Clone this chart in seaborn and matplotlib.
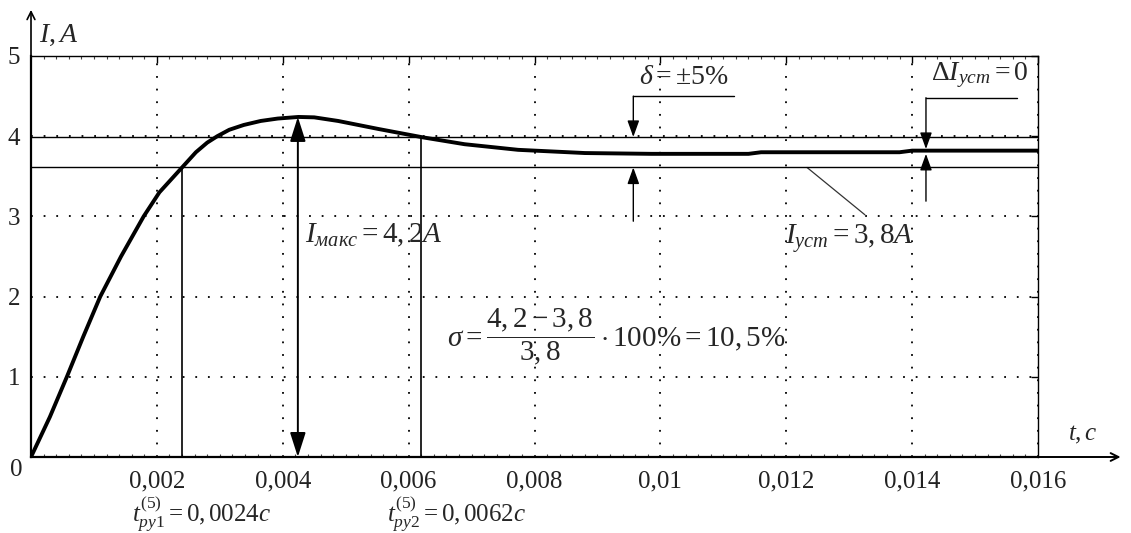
import matplotlib
matplotlib.use("Agg")
import matplotlib.pyplot as plt
from matplotlib.ticker import MultipleLocator, FixedLocator, FuncFormatter
import numpy as np
import pandas as pd
import seaborn as sns

# Transient current response I(t)
t_s = [0.0, 0.0003, 0.00057, 0.00083, 0.0011, 0.00143, 0.00179, 0.00204,
       0.0024, 0.00262, 0.0028, 0.00296, 0.00315, 0.00338, 0.00365, 0.00392,
       0.00425, 0.0045, 0.00488, 0.00552, 0.00623, 0.00689, 0.00774, 0.0088,
       0.00986, 0.0114, 0.0116, 0.0138, 0.0140, 0.016]
i_a = [0.0, 0.5, 1.0, 1.5, 2.0, 2.5, 3.0, 3.3,
       3.61, 3.8, 3.92, 4.0, 4.08, 4.14, 4.19, 4.22,
       4.24, 4.235, 4.19, 4.09, 3.985, 3.90, 3.83, 3.79,
       3.78, 3.78, 3.80, 3.80, 3.82, 3.82]

x_ticks = [0.002, 0.004, 0.006, 0.008, 0.010, 0.012, 0.014, 0.016]
y_ticks = [1, 2, 3, 4, 5]

i_steady = 3.8        # A
i_peak = 4.24         # A, curve maximum
t_peak = 0.00424      # s
delta = 0.05          # tolerance band
t_settle1 = 0.0024    # s
t_settle2 = 0.0062    # s

sns.set_theme(style="white")
plt.rcParams["font.family"] = ["Liberation Serif", "DejaVu Sans"]
plt.rcParams["mathtext.fontset"] = "custom"
plt.rcParams["mathtext.rm"] = "Liberation Serif"
plt.rcParams["mathtext.it"] = "Liberation Serif:italic"
plt.rcParams["mathtext.bf"] = "Liberation Serif:bold"

fig = plt.figure(figsize=(11.31, 5.33), dpi=100)
ax = fig.add_axes([31 / 1131, 76 / 533, 1007 / 1131, 401 / 533])

df = pd.DataFrame({"t": t_s, "I": i_a})
sns.lineplot(data=df, x="t", y="I", ax=ax, color="black", lw=2.8, zorder=5)

ax.set_xlim(0, 0.016)
ax.set_ylim(0, 5)
ax.set_xlabel("")
ax.set_ylabel("")

# ticks and dotted grid
ax.xaxis.set_major_locator(FixedLocator(x_ticks))
ax.yaxis.set_major_locator(FixedLocator(y_ticks))
ax.xaxis.set_minor_locator(MultipleLocator(0.0002))
fmt = FuncFormatter(lambda v, p: ("%g" % v).replace(".", ","))
ax.xaxis.set_major_formatter(fmt)
ax.yaxis.set_major_formatter(FuncFormatter(lambda v, p: "%g" % v))
ax.tick_params(axis="both", which="major", direction="in", length=5,
               width=1.0, color="black", labelsize=18, labelcolor="#222222",
               top=True, right=True)
ax.tick_params(axis="x", which="major", pad=10)
ax.tick_params(axis="y", which="major", pad=8)
ax.tick_params(axis="x", which="minor", direction="in", length=2.5,
               width=0.8, color="#444444", top=True, bottom=True)
ax.grid(True, which="major", color="black", lw=1.3, linestyle=(0, (1, 6)))

for side in ["top", "right"]:
    ax.spines[side].set_color("black")
    ax.spines[side].set_linewidth(1.0)
for side in ["left", "bottom"]:
    ax.spines[side].set_color("black")
    ax.spines[side].set_linewidth(1.6)

# axis arrows
ax.annotate("", xy=(0, 1.115), xytext=(0, 1.0), xycoords="axes fraction",
            arrowprops=dict(arrowstyle="->", lw=1.2, color="black",
                            shrinkA=0, shrinkB=0, mutation_scale=14))
ax.annotate("", xy=(1.082, 0), xytext=(1.0, 0), xycoords="axes fraction",
            arrowprops=dict(arrowstyle="->", lw=1.4, color="black",
                            shrinkA=0, shrinkB=0, mutation_scale=14))
ax.text(0.00044, 5.26, r"$I, A$", fontsize=20, ha="center", va="center",
        clip_on=False)
ax.text(0.01671, 0.27, r"$t, c$", fontsize=18, ha="center", va="center",
        clip_on=False)
ax.text(-0.00024, -0.16, "0", fontsize=18, ha="center", va="center",
        color="#222222", clip_on=False)

# tolerance band lines
band_hi = i_steady * (1 + delta)
band_lo = i_steady * (1 - delta)
ax.axhline(band_hi, color="black", lw=1.0, zorder=3)
ax.axhline(band_lo, color="black", lw=1.0, zorder=3)

# settling time verticals
ax.plot([t_settle1, t_settle1], [0, band_lo], color="black", lw=1.2)
ax.plot([t_settle2, t_settle2], [0, band_hi], color="black", lw=1.2)

head = dict(color="black", lw=1.4, shrinkA=0, shrinkB=0, mutation_scale=20)

# peak current arrow
ax.annotate("", xy=(t_peak, i_peak), xytext=(t_peak, 0),
            arrowprops=dict(arrowstyle="<|-|>,head_length=0.75,head_width=0.24",
                            **head), zorder=6)
ax.text(0.00544, 2.76, r"$I_{макс} = 4,2A$", fontsize=21,
        ha="center", va="center")

# delta band arrows
t_d = 0.00957
ax.plot([t_d, 0.01117], [4.5, 4.5], color="black", lw=1.0)
ax.annotate("", xy=(t_d, band_hi), xytext=(t_d, 4.5),
            arrowprops=dict(arrowstyle="-|>,head_length=0.5,head_width=0.18",
                            **{**head, "lw": 1.0}))
ax.annotate("", xy=(t_d, band_lo), xytext=(t_d, 2.94),
            arrowprops=dict(arrowstyle="-|>,head_length=0.5,head_width=0.18",
                            **{**head, "lw": 1.0}))
ax.text(0.01037, 4.73, r"$\delta = \pm 5\%$", fontsize=20,
        ha="center", va="center")

# steady-state error arrows
t_e = 0.01422
ax.plot([t_e, 0.01567], [4.48, 4.48], color="black", lw=1.0)
ax.annotate("", xy=(t_e, 3.84), xytext=(t_e, 4.48),
            arrowprops=dict(arrowstyle="-|>,head_length=0.5,head_width=0.18",
                            **{**head, "lw": 1.0}))
ax.annotate("", xy=(t_e, 3.78), xytext=(t_e, 3.19),
            arrowprops=dict(arrowstyle="-|>,head_length=0.5,head_width=0.18",
                            **{**head, "lw": 1.0}))
ax.text(0.01508, 4.76, r"$\Delta I_{уст} = 0$", fontsize=20,
        ha="center", va="center")

# steady-state label with leader
ax.plot([0.01233, 0.01325], [band_lo, 3.02], color="#333333", lw=0.9)
ax.text(0.0130, 2.73, r"$I_{уст} = 3,8A$", fontsize=21,
        ha="center", va="center")

# overshoot formula
ax.text(0.0093, 1.5,
        r"$\sigma = \dfrac{4,2 - 3,8}{3,8}\cdot 100\% = 10,5\%$",
        fontsize=21, ha="center", va="center")

# settling time labels
ax.text(0.00271, -0.715, r"$t_{ру1}^{(5)} = 0,0024c$", fontsize=18,
        ha="center", va="center", clip_on=False)
ax.text(0.00676, -0.715, r"$t_{ру2}^{(5)} = 0,0062c$", fontsize=18,
        ha="center", va="center", clip_on=False)

fig.savefig("out.png", dpi=100, facecolor="white")
